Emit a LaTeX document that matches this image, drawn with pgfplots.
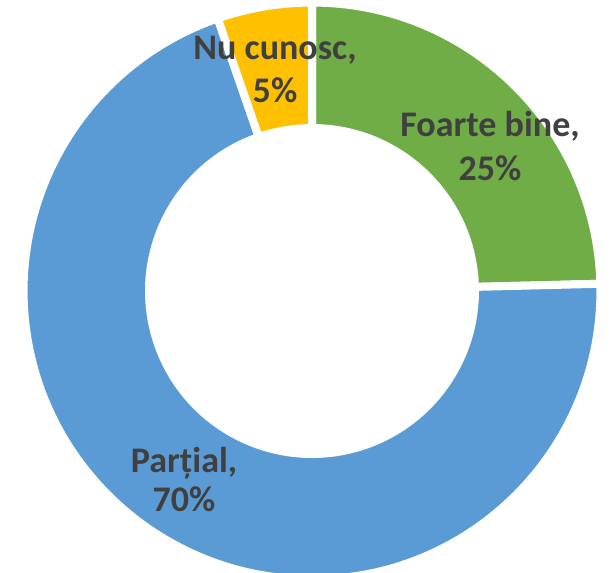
\documentclass[border=0pt]{standalone}
\usepackage{fontspec}
\setmainfont{Carlito}
\usepackage{xcolor}
\usepackage{pgfplots}
\usepackage{pgfplotstable}
\pgfplotsset{compat=1.18}

\definecolor{sliceGreen}{RGB}{112,173,71}
\definecolor{sliceBlue}{RGB}{91,155,213}
\definecolor{sliceGold}{RGB}{255,192,0}
\definecolor{labelGray}{RGB}{64,64,64}

% shares read off the ring (labels show them rounded)
\pgfplotstableread{
value label
24.6 {Foarte bine}
70.1 {Parțial}
5.3 {Nu cunosc}
}\donutdata

\begin{document}
\begin{tikzpicture}
\pgfplotstablegetelem{0}{value}\of\donutdata \pgfmathsetmacro\va{\pgfplotsretval}
\pgfplotstablegetelem{1}{value}\of\donutdata \pgfmathsetmacro\vb{\pgfplotsretval}
\pgfplotstablegetelem{2}{value}\of\donutdata \pgfmathsetmacro\vc{\pgfplotsretval}
\pgfmathsetmacro\tot{\va+\vb+\vc}
\pgfmathsetmacro\aA{90}
\pgfmathsetmacro\aB{\aA-(\va/\tot)*360}
\pgfmathsetmacro\aC{\aB-(\vb/\tot)*360}
\pgfmathsetmacro\aD{\aC-(\vc/\tot)*360}
\def\Ro{5.77cm}
\def\Ri{3.26cm}
\tikzset{lbl/.style={anchor=base, text=labelGray, font=\fontsize{20.5}{24}\selectfont\bfseries, inner sep=0pt}}
\begin{axis}[
  x=0.02cm, y=0.02cm,
  xmin=0, xmax=611, ymin=0, ymax=572,
  enlargelimits=false,
  hide axis,
  clip=true,
]
\path[fill=sliceGreen, draw=white, line width=0.16cm, shift={(axis cs:312,281)}]
  (\aA:\Ro) arc[start angle=\aA, end angle=\aB, radius=\Ro]
  -- (\aB:\Ri) arc[start angle=\aB, end angle=\aA, radius=\Ri] -- cycle;
\path[fill=sliceBlue, draw=white, line width=0.16cm, shift={(axis cs:312,281)}]
  (\aB:\Ro) arc[start angle=\aB, end angle=\aC, radius=\Ro]
  -- (\aC:\Ri) arc[start angle=\aC, end angle=\aB, radius=\Ri] -- cycle;
\path[fill=sliceGold, draw=white, line width=0.16cm, shift={(axis cs:312,281)}]
  (\aC:\Ro) arc[start angle=\aC, end angle=\aD, radius=\Ro]
  -- (\aD:\Ri) arc[start angle=\aD, end angle=\aC, radius=\Ri] -- cycle;

\node[lbl] at (axis cs:490,435) {Foarte bine,};
\node[lbl] at (axis cs:490,392) {\pgfmathprintnumber[fixed,precision=0,assume math mode=true]{\va}\%};
\node[lbl] at (axis cs:184,100) {Parțial,};
\node[lbl] at (axis cs:184,61) {\pgfmathprintnumber[fixed,precision=0,assume math mode=true]{\vb}\%};
\node[lbl] at (axis cs:275,512) {Nu cunosc,};
\node[lbl] at (axis cs:275,469) {\pgfmathprintnumber[fixed,precision=0,assume math mode=true]{\vc}\%};
\end{axis}
\pgfresetboundingbox
\useasboundingbox (current axis.south west) rectangle (current axis.north east);
\end{tikzpicture}
\end{document}
